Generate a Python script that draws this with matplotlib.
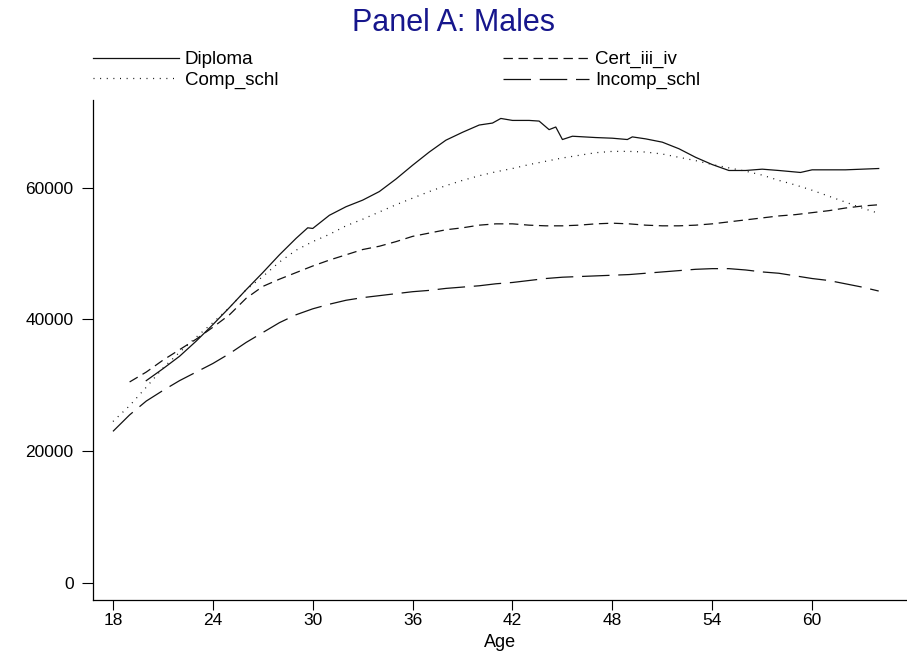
import matplotlib
matplotlib.use("Agg")
import matplotlib.pyplot as plt
from matplotlib import font_manager

plt.rcParams['font.family'] = ['Liberation Sans', 'DejaVu Sans']

# ---- data ----
diploma_age = [20.0, 21.0, 22.0, 23.0, 24.0, 25.0, 26.0, 27.0, 28.0, 29.0, 29.7, 30.0, 30.5,
               31.0, 32.0, 33.0, 34.0, 35.0, 36.0, 37.0, 38.0, 39.0, 40.0, 40.8, 41.3, 42.0,
               43.0, 43.6, 44.2, 44.6, 45.0, 45.6, 47.0, 48.0, 48.9, 49.2, 50.0, 51.0, 52.0,
               53.0, 54.0, 55.0, 56.0, 57.0, 58.0, 59.3, 60.0, 62.0, 64.0]
diploma_val = [30700, 32500, 34400, 36700, 39200, 41800, 44500, 47100, 49800, 52300, 53900,
               53800, 54800, 55800, 57100, 58100, 59400, 61300, 63400, 65400, 67200, 68400,
               69500, 69800, 70500, 70200, 70200, 70100, 68800, 69200, 67300, 67800, 67600,
               67500, 67300, 67700, 67400, 66900, 65900, 64600, 63500, 62600, 62600, 62800,
               62600, 62300, 62700, 62700, 62900]

comp_age = list(range(18, 65))
comp_val = [24500, 26900, 29700, 32600, 35000, 37300, 39500, 41800, 44500, 46500, 48700,
            50500, 51800, 52900, 54200, 55200, 56300, 57400, 58400, 59400, 60300, 61100,
            61800, 62400, 62900, 63500, 64000, 64500, 64900, 65300, 65500, 65500, 65400,
            65100, 64600, 64100, 63500, 63000, 62500, 61900, 61100, 60400, 59600, 58700,
            57800, 56900, 56100]

cert_age = list(range(19, 65))
cert_val = [30500, 32000, 33800, 35400, 37000, 38800, 40700, 43200, 45000, 46100, 47100,
            48100, 49000, 49800, 50600, 51100, 51800, 52600, 53100, 53600, 53900, 54300,
            54500, 54500, 54300, 54200, 54200, 54300, 54500, 54600, 54500, 54300, 54200,
            54200, 54300, 54500, 54800, 55100, 55400, 55700, 55900, 56200, 56500, 56900,
            57200, 57400]

incomp_age = list(range(18, 65))
incomp_val = [23000, 25500, 27600, 29200, 30700, 32000, 33300, 34800, 36500, 38000, 39500,
              40700, 41600, 42300, 42900, 43300, 43600, 43900, 44200, 44400, 44700, 44900,
              45100, 45400, 45600, 45900, 46200, 46400, 46500, 46600, 46700, 46800, 47000,
              47200, 47400, 47600, 47700, 47700, 47500, 47200, 47000, 46600, 46200, 45900,
              45400, 44900, 44300]

x_ticks = [18, 24, 30, 36, 42, 48, 54, 60]
y_ticks = [0, 20000, 40000, 60000]

# ---- fonts ----
available = {f.name for f in font_manager.fontManager.ttflist}
if 'Liberation Sans Narrow' in available:
    tickfont, ticksize = ['Liberation Sans Narrow', 'DejaVu Sans'], 14
else:
    tickfont, ticksize = ['Liberation Sans', 'DejaVu Sans'], 12.5

# ---- figure ----
W, H = 907, 657
fig = plt.figure(figsize=(W / 100, H / 100), dpi=100)
ax = fig.add_axes([93 / W, 57 / H, (W - 93) / W, 500 / H])

lc = '#111111'
lw = 0.9
l1, = ax.plot(diploma_age, diploma_val, color=lc, lw=lw, ls='-', label='Diploma')
l2, = ax.plot(comp_age, comp_val, color=lc, lw=lw, ls=(0, (0.8, 4.5)), label='Comp_schl')
l3, = ax.plot(cert_age, cert_val, color=lc, lw=lw, ls=(0, (7.5, 4.5)), label='Cert_iii_iv')
l4, = ax.plot(incomp_age, incomp_val, color=lc, lw=lw, ls=(0, (22, 7)), label='Incomp_schl')

ax.set_xlim(16.8, 65.7)
ax.set_ylim(-2600, 73300)
ax.set_xticks(x_ticks)
ax.set_yticks(y_ticks)
ax.set_xticklabels([str(v) for v in x_ticks], family=tickfont, fontsize=ticksize)
ax.set_yticklabels([str(v) for v in y_ticks], family=tickfont, fontsize=ticksize)
ax.tick_params(axis='x', length=7.5, width=0.8, pad=2)
ax.tick_params(axis='y', length=8, width=0.8, pad=6)
ax.spines['top'].set_visible(False)
ax.spines['right'].set_visible(False)
for s in ('left', 'bottom'):
    ax.spines[s].set_linewidth(0.9)
ax.set_xlabel('Age', family=tickfont, fontsize=ticksize + 0.5, labelpad=4.5)

fig.text(0.5, 1 - 23 / H, 'Panel A: Males', ha='center', va='center',
         color='#16168c', fontsize=22)

leg_kw = dict(loc='upper left', frameon=False, fontsize=13.5, handlelength=4.6,
              handletextpad=0.3, labelspacing=0.2, borderpad=0, borderaxespad=0)
leg1 = fig.legend(handles=[l1, l2], bbox_to_anchor=(93 / W, 1 - 51 / H), **leg_kw)
leg2 = fig.legend(handles=[l3, l4], bbox_to_anchor=(503 / W, 1 - 51 / H), **leg_kw)

fig.savefig('out.png', dpi=100)
